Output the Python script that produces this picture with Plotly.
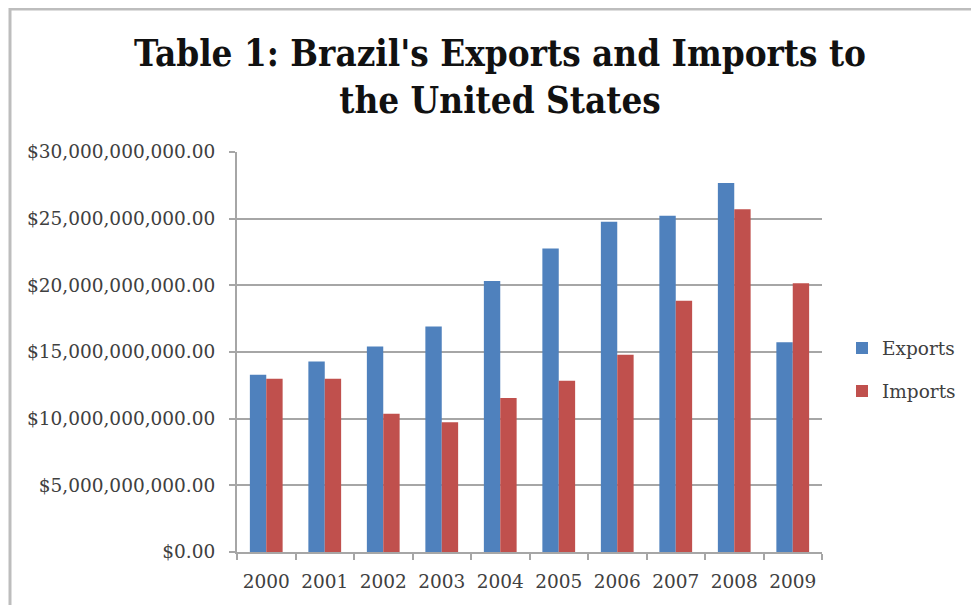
import plotly.graph_objects as go

years = ["2000", "2001", "2002", "2003", "2004", "2005", "2006", "2007", "2008", "2009"]
exports = [13.29e9, 14.29e9, 15.41e9, 16.91e9, 20.32e9, 22.77e9, 24.76e9, 25.21e9, 27.68e9, 15.74e9]
imports = [12.99e9, 12.99e9, 10.37e9, 9.73e9, 11.55e9, 12.84e9, 14.79e9, 18.85e9, 25.71e9, 20.15e9]
y_ticks = [0, 5e9, 10e9, 15e9, 20e9, 25e9, 30e9]
y_tick_labels = ["$0.00", "$5,000,000,000.00", "$10,000,000,000.00", "$15,000,000,000.00",
                 "$20,000,000,000.00", "$25,000,000,000.00", "$30,000,000,000.00"]

OFF = 8  # page body margin
W, H = 979 - OFF, 605 - OFF
L, R, T, B = 237 - OFF, 822 - OFF, 152 - OFF, 552 - OFF

fig = go.Figure()
fig.add_trace(go.Bar(x=years, y=exports, name="Exports", marker_color="#4F81BD",
                     marker_line_width=0, legendgroup="e"))
fig.add_trace(go.Bar(x=years, y=imports, name="Imports", marker_color="#C0504D",
                     marker_line_width=0, legendgroup="i"))

tick_font = dict(family="DejaVu Serif", size=18.5, color="#404040")

fig.update_layout(
    width=W, height=H,
    margin=dict(l=L, r=W - R, t=T, b=H - B, pad=0),
    paper_bgcolor="white", plot_bgcolor="white",
    barmode="group", bargap=0.44, bargroupgap=0,
    title=dict(text="<b>Table 1: Brazil's Exports and Imports to<br>the United States</b>",
               font=dict(family="DejaVu Serif Condensed, Liberation Serif", size=36.5, color="#111111"),
               x=(500 - OFF) / W, xanchor="center", xref="container",
               y=1 - 58 / H, yanchor="top", yref="container"),
    xaxis=dict(showline=True, linecolor="#A6A6A6", linewidth=2,
               ticks="outside", tickson="boundaries", ticklen=6, tickcolor="#A6A6A6",
               tickwidth=2, tickfont=tick_font, showgrid=False, ticklabelstandoff=12),
    yaxis=dict(range=[0, 30e9], tickvals=y_ticks, ticktext=y_tick_labels,
               showline=True, linecolor="#A6A6A6", linewidth=2,
               ticks="outside", ticklen=6, tickcolor="#A6A6A6", tickwidth=2,
               gridcolor="#A6A6A6", gridwidth=2, tickfont=tick_font, zeroline=False,
               ticklabelstandoff=10),
    legend=dict(x=(842 - 237) / (R - L), y=(552 - 370) / (B - T), xanchor="left", yanchor="middle",
                font=dict(family="DejaVu Serif", size=18.5, color="#404040"),
                tracegroupgap=16, traceorder="grouped", itemwidth=30),
    showlegend=True,
)

fig.add_shape(type="rect", xref="paper", yref="paper",
              x0=(2 - L) / (R - L), x1=(W + 30 - L) / (R - L),
              y0=(B - (H + 30)) / (B - T), y1=(B - 1) / (B - T),
              line=dict(color="#BDBDBD", width=3), fillcolor="rgba(0,0,0,0)", layer="above")

fig.write_html("out.html")
